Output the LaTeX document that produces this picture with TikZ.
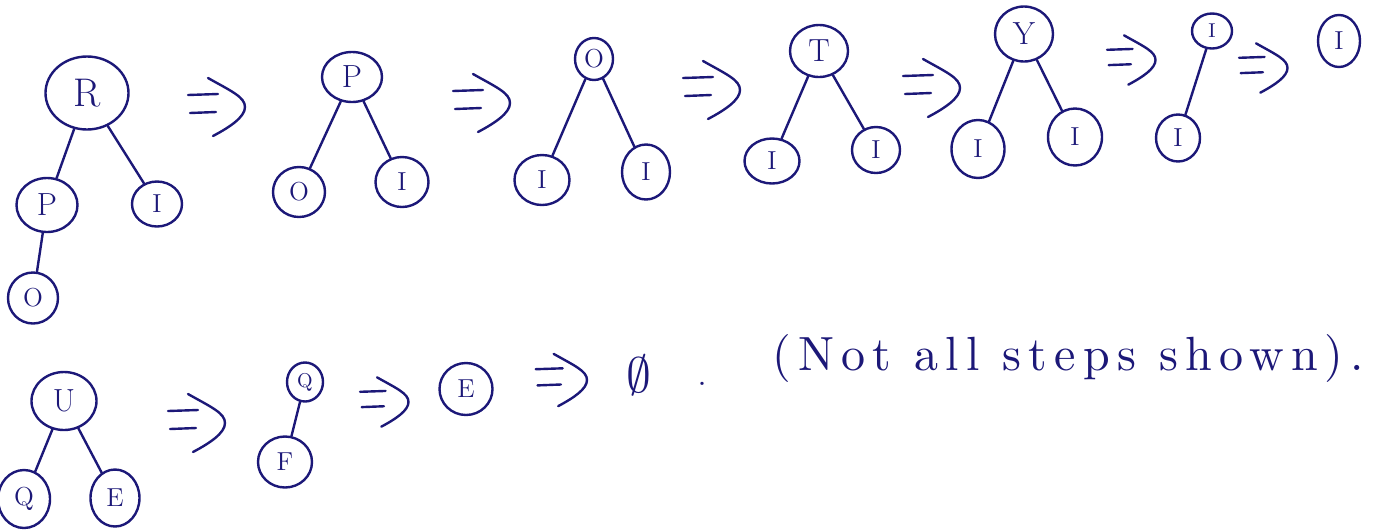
\documentclass[tikz,border=0pt]{standalone}
\usepackage{fontspec}
\usetikzlibrary{shapes.geometric}

\newfontfamily\notefont{lmroman10-regular.otf}[LetterSpace=15]

\definecolor{ink}{RGB}{28,24,120}

\tikzset{
  tnode/.style={draw=ink, ellipse, line width=1.2pt, inner sep=0pt, text=ink},
  big/.style={font=\fontsize{20}{22}\selectfont},
  mid/.style={font=\fontsize{16}{18}\selectfont},
  small/.style={font=\fontsize{13}{15}\selectfont},
  tiny/.style={font=\fontsize{10}{12}\selectfont},
  link/.style={draw=ink, line width=1.2pt, line cap=round},
  thenarrow/.pic={
    \draw[link] (-27,-12) -- (3,-13);
    \draw[link] (-25,6) -- (1,5);
    \draw[link] (-7,-29) .. controls (16,-16) and (30,-10) .. (30,0)
                .. controls (30,10) and (15,20) .. (-2,29);
  }
}

\begin{document}
\begin{tikzpicture}[x=0.5pt, y=-0.5pt]

    \useasboundingbox (0,0) rectangle (1379,531);

    % First tree
    \node[tnode, big, minimum width=41.5pt, minimum height=36.5pt] (r) at (87,93) {R};
    \node[tnode, mid, minimum width=30.5pt, minimum height=27pt] (rp) at (47,205) {P};
    \node[tnode, small, minimum width=25pt, minimum height=22.5pt] (ri) at (157,204) {I};
    \node[tnode, small, minimum width=25pt, minimum height=25.5pt] (rpo) at (33,298) {O};
    \draw[link] (r) -- (rp);
    \draw[link] (r) -- (ri);
    \draw[link] (rp) -- (rpo);

    \pic at (215,107) {thenarrow};

    % Second tree
    \node[tnode, mid, minimum width=30pt, minimum height=25pt] (p) at (352,77) {P};
    \node[tnode, small, minimum width=26pt, minimum height=25pt] (po) at (299,192) {O};
    \node[tnode, small, minimum width=26.5pt, minimum height=25pt] (pi) at (402,182) {I};
    \draw[link] (p) -- (po);
    \draw[link] (p) -- (pi);

    \pic at (480,103) {thenarrow};

    % Third tree
    \node[tnode, small, minimum width=19pt, minimum height=21pt] (o) at (594,59) {O};
    \node[tnode, small, minimum width=27.5pt, minimum height=25pt] (oia) at (542,180) {I};
    \node[tnode, small, minimum width=24pt, minimum height=27.5pt] (oib) at (646,172) {I};
    \draw[link] (o) -- (oia);
    \draw[link] (o) -- (oib);

    \pic at (710,90) {thenarrow};

    % Fourth tree
    \node[tnode, mid, minimum width=29pt, minimum height=26pt] (t) at (819,51) {T};
    \node[tnode, small, minimum width=27.5pt, minimum height=22.5pt] (tia) at (772,161) {I};
    \node[tnode, small, minimum width=24pt, minimum height=23pt] (tib) at (876,150) {I};
    \draw[link] (t) -- (tia);
    \draw[link] (t) -- (tib);

    \pic at (930,88) {thenarrow};

    % Fifth tree
    \node[tnode, mid, minimum width=29pt, minimum height=27.5pt] (y) at (1024,34) {Y};
    \node[tnode, small, minimum width=26.5pt, minimum height=29pt] (yia) at (978,149) {I};
    \node[tnode, small, minimum width=27pt, minimum height=28.5pt] (yib) at (1075,137) {I};
    \draw[link] (y) -- (yia);
    \draw[link] (y) -- (yib);

    \pic[scale=0.85] at (1130,60) {thenarrow};

    % Sixth tree
    \node[tnode, tiny, minimum width=20pt, minimum height=17.5pt] (i) at (1212,31) {I};
    \node[tnode, small, minimum width=22pt, minimum height=23.5pt] (ii) at (1178,138) {I};
    \draw[link] (i) -- (ii);

    \pic[scale=0.85] at (1262,68) {thenarrow};

    \node[tnode, small, minimum width=21pt, minimum height=26pt] (last) at (1339,41) {I};

    % Second row
    \node[tnode, mid, minimum width=32.5pt, minimum height=29pt] (u) at (64,401) {U};
    \node[tnode, small, minimum width=26pt, minimum height=29pt] (uq) at (24,499) {Q};
    \node[tnode, small, minimum width=24.5pt, minimum height=28.5pt] (ue) at (115,498) {E};
    \draw[link] (u) -- (uq);
    \draw[link] (u) -- (ue);

    \pic at (195,423) {thenarrow};

    \node[tnode, tiny, minimum width=18pt, minimum height=19.5pt] (q) at (305,382) {Q};
    \node[tnode, small, minimum width=27pt, minimum height=25.5pt] (qf) at (285,462) {F};
    \draw[link] (q) -- (qf);

    \pic[scale=0.85] at (383,402) {thenarrow};

    \node[tnode, small, minimum width=26.5pt, minimum height=26pt] (e) at (466,389) {E};

    \pic[scale=0.9] at (560,380) {thenarrow};

    \node[text=ink, font=\fontsize{30}{32}\selectfont] (nil) at (639,375) {$\emptyset$};
    \node[text=ink, font=\fontsize{20}{22}\selectfont] (dot) at (702,384) {.};

    % Note
    \node[text=ink, anchor=base west, inner sep=0pt,
          font=\notefont\fontsize{24}{26}\selectfont] (note)
          at (772,370) {(Not all steps shown).};

\end{tikzpicture}
\end{document}
